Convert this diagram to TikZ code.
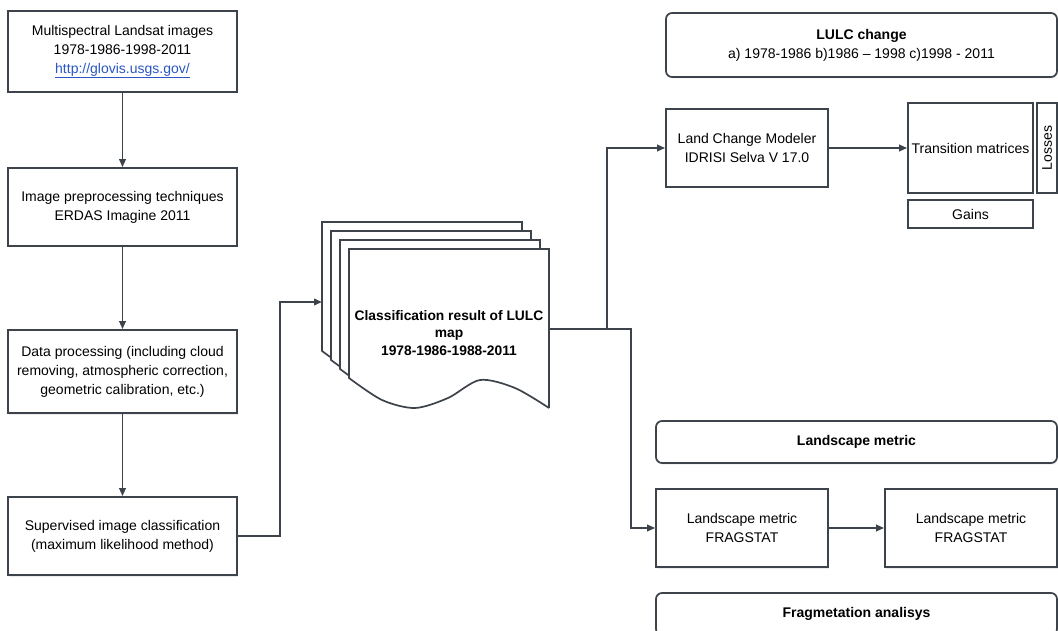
\documentclass[tikz,border=0pt]{standalone}
\usepackage{fontspec}
\setmainfont{Liberation Sans}
\usepackage{tikz}
\usetikzlibrary{arrows.meta,shadows}
\definecolor{edgegray}{HTML}{3D434A}
\definecolor{linkblue}{HTML}{2A57C4}

\begin{document}
\begin{tikzpicture}[x=1pt,y=-1pt,every node/.style={font=\fontsize{14}{19}\selectfont}]
\tikzstyle{Block}=[draw=edgegray, line width=1.7pt, fill=white, align=center, inner sep=1pt, drop shadow={shadow xshift=1pt,shadow yshift=-1.5pt,opacity=0.15}];
\tikzstyle{Round}=[Block, rounded corners=6pt];
\tikzstyle{seq} = [draw=edgegray, line width=1.9pt, -{Triangle[length=8pt,width=6.5pt]}];
\tikzstyle{sheet} = [draw=edgegray, line width=1.7pt, fill=white];
\useasboundingbox (0,0) rectangle (1058,631);
% left column
\node [Block, minimum width=229pt, minimum height=81pt] (v1) at (122.5,51.5) {Multispectral Landsat images\\
1978-1986-1998-2011\\
\textcolor{linkblue}{\underline{http://glovis.usgs.gov/}}};
\node [Block, minimum width=229pt, minimum height=78pt] (v2) at (122.5,207) {Image preprocessing techniques\\
ERDAS Imagine 2011};
\draw [seq] (v1) -- (v2);
\node [Block, minimum width=229pt, minimum height=83pt] (v3) at (122.5,371.5) {Data processing (including cloud\\
removing, atmospheric correction,\\
geometric calibration, etc.)};
\draw [seq] (v2) -- (v3);
\node [Block, minimum width=229pt, minimum height=78pt] (v4) at (122.5,536) {Supervised image classification\\
(maximum likelihood method)};
\draw [seq] (v3) -- (v4);
% stack of maps
\foreach \d in {27,18,9,0} {
\draw [sheet, shift={(-\d,-\d)}] (549,408) -- (549,249) -- (349,249) -- (349,378)
  -- plot[smooth] coordinates {(349,378) (382,400) (415,408) (448,398) (480,380) (515,388) (549,408)};
}
\node [align=center, font=\bfseries\fontsize{13.8}{17.5}\selectfont] (v5) at (449,333) {Classification result of LULC\\
map\\
1978-1986-1988-2011};
\coordinate (docin) at (322,302);
\coordinate (docout) at (549,329);
\draw [seq] (v4.east) -- ++(42,0) |- (docin);
% LULC change
\node [Round, minimum width=391pt, minimum height=64pt] (v6) at (861.5,45) {\textbf{LULC change}\\
a) 1978-1986 b)1986 \textendash{} 1998 c)1998 - 2011};
\node [Block, minimum width=162pt, minimum height=78pt] (v7) at (747,148) {Land Change Modeler\\
IDRISI Selva V 17.0};
\node [Block, minimum width=125pt, minimum height=90pt, inner sep=0pt] (v8) at (970.5,148) {Transition matrices};
\node [Block, minimum width=125pt, minimum height=28pt] (v9) at (970.5,214) {Gains};
\node [Block, rotate=90, minimum width=90pt, minimum height=20pt, inner sep=0pt] (v10) at (1047,148) {Losses};
\draw [seq] ([xshift=58pt]docout) |- (v7.west);
\draw [seq] (v7) -- (v8);
% landscape metric
\node [Round, minimum width=401pt, minimum height=42pt] (v11) at (856.5,442) {\textbf{Landscape metric}};
\node [Block, minimum width=172pt, minimum height=78pt] (v12) at (742,528) {Landscape metric\\
FRAGSTAT};
\node [Block, minimum width=172pt, minimum height=78pt] (v13) at (971,528) {Landscape metric\\
FRAGSTAT};
\draw [seq] (docout) -| ([xshift=-24pt]v12.west) -- (v12.west);
\draw [seq] (v12) -- (v13);
\node [Round, minimum width=401pt, minimum height=42pt] (v14) at (856.5,614) {\textbf{Fragmetation analisys}};
\end{tikzpicture}
\end{document}
